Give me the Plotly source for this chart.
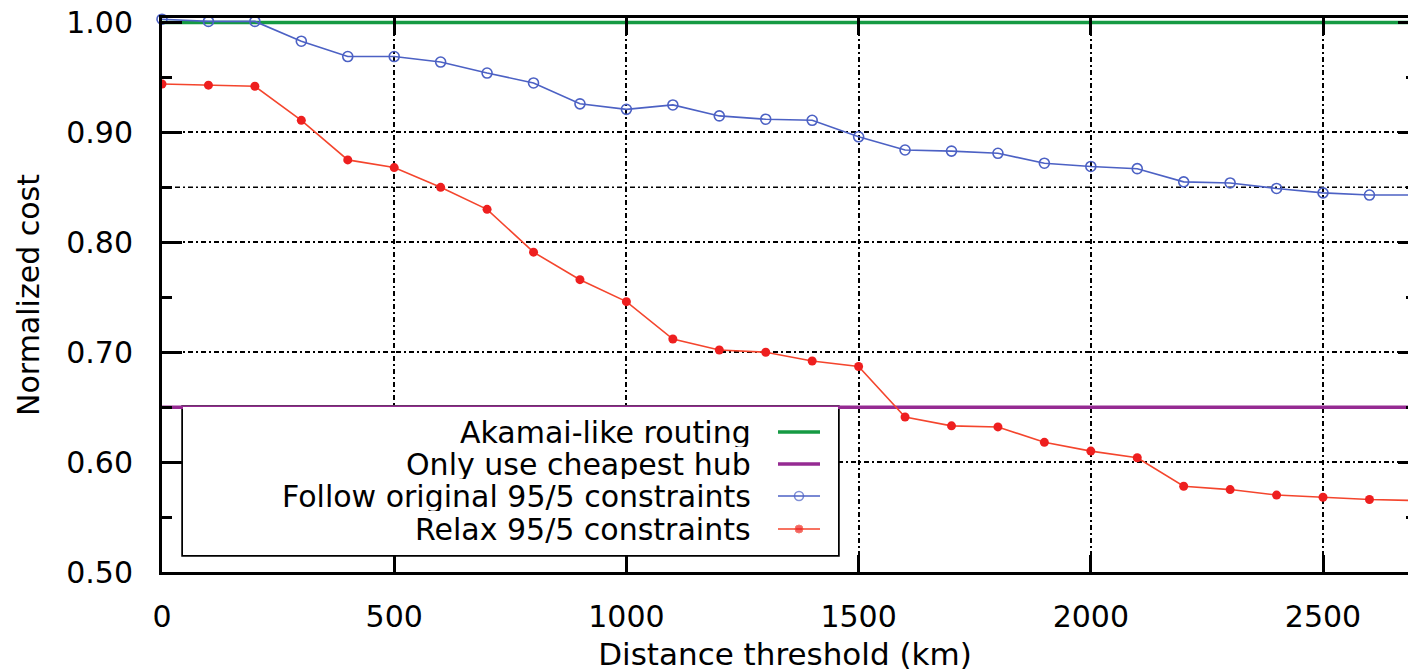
import plotly.graph_objects as go

# ---------------- data ----------------
distance_km = [0, 100, 200, 300, 400, 500, 600, 700, 800, 900, 1000, 1100, 1200, 1300,
               1400, 1500, 1600, 1700, 1800, 1900, 2000, 2100, 2200, 2300, 2400, 2500,
               2600, 2700]
follow_original = [1.003, 1.001, 1.001, 0.983, 0.969, 0.969, 0.964, 0.954, 0.945, 0.926,
                   0.921, 0.925, 0.915, 0.912, 0.911, 0.896, 0.884, 0.883, 0.881, 0.872,
                   0.869, 0.867, 0.855, 0.854, 0.849, 0.845, 0.843, 0.843]
relax = [0.944, 0.943, 0.942, 0.911, 0.875, 0.868, 0.850, 0.830, 0.791, 0.766,
         0.746, 0.712, 0.702, 0.700, 0.692, 0.687, 0.641, 0.633, 0.632, 0.618,
         0.610, 0.604, 0.578, 0.575, 0.570, 0.568, 0.566, 0.565]
akamai_level = 1.00
cheapest_hub_level = 0.65
x_extent = [0, 2683]

series_names = ["Akamai-like routing", "Only use cheapest hub",
                "Follow original 95/5 constraints", "Relax 95/5 constraints"]
y_ticks = [0.5, 0.6, 0.7, 0.8, 0.9, 1.0]
x_ticks = [0, 500, 1000, 1500, 2000, 2500]

GREEN = "#159a43"
PURPLE = "#952a92"
BLUE = "#4c61c4"
RED_LINE = "#f4452d"
RED_MK = "#ee1f1f"
FONT = "DejaVu Sans"
DASH = "5px,3px,2px,3px"

W, H = 1408, 672
L, R, T, B = 162, 0, 18, 100
pw = W - L - R
ph = H - T - B
yr = [0.5, 1.0041]


def px_to_x(px):
    return x_extent[0] + (px - L) / pw * (x_extent[1] - x_extent[0])


def px_to_y(py):
    return yr[0] + (H - B - py) / ph * (yr[1] - yr[0])


fig = go.Figure()

# legend box (white, above grid, below traces)
box = [183, 838, 407, 555]  # left, right, top, bottom in page px
fig.add_shape(type="rect", xref="x", yref="y",
              x0=px_to_x(box[0]), x1=px_to_x(box[1]),
              y0=px_to_y(box[3]), y1=px_to_y(box[2]),
              line=dict(color="black", width=3.5), fillcolor="white", layer="between")
# extra dashed gridline at 0.85
fig.add_shape(type="line", xref="x", yref="y", x0=x_extent[0], x1=x_extent[1],
              y0=0.85, y1=0.85,
              line=dict(color="black", width=1.5, dash=DASH), layer="between")

# constant reference lines
fig.add_trace(go.Scatter(x=x_extent, y=[akamai_level] * 2, mode="lines",
                         line=dict(color=GREEN, width=3.5), name=series_names[0],
                         showlegend=False, cliponaxis=False))
fig.add_trace(go.Scatter(x=x_extent, y=[cheapest_hub_level] * 2, mode="lines",
                         line=dict(color=PURPLE, width=3.5), name=series_names[1],
                         showlegend=False))
fig.add_trace(go.Scatter(x=distance_km, y=follow_original, mode="lines+markers",
                         line=dict(color=BLUE, width=1.6),
                         marker=dict(symbol="circle-open", size=10,
                                     line=dict(color=BLUE, width=1.6)),
                         name=series_names[2], showlegend=False, cliponaxis=False))
fig.add_trace(go.Scatter(x=distance_km, y=relax, mode="lines+markers",
                         line=dict(color=RED_LINE, width=1.6),
                         marker=dict(symbol="circle", size=9, color=RED_MK),
                         name=series_names[3], showlegend=False))

# dummy trace for right-hand mirrored ticks
fig.add_trace(go.Scatter(x=[None], y=[None], yaxis="y2", showlegend=False,
                         hoverinfo="skip"))

# ---- manual legend (gnuplot style: text right, sample left) ----
leg_rows = [432, 464, 496, 529]
sample_x = [778, 820]
leg_styles = [
    dict(mode="lines", line=dict(color=GREEN, width=3.5)),
    dict(mode="lines", line=dict(color=PURPLE, width=3.5)),
    dict(mode="lines+markers", line=dict(color=BLUE, width=1.6),
         marker=dict(symbol="circle-open", size=9, line=dict(color=BLUE, width=1.6))),
    dict(mode="lines+markers", line=dict(color=RED_LINE, width=1.6),
         marker=dict(symbol="circle", size=8, color=RED_MK)),
]
for name, row, st in zip(series_names, leg_rows, leg_styles):
    if st["mode"] == "lines":
        xs, ys = sample_x, [row, row]
    else:
        xs = [sample_x[0], sum(sample_x) / 2, sample_x[1]]
        ys = [row, row, row]
        st = dict(st)
        st["marker"] = dict(st["marker"])
        st["marker"]["size"] = [0, st["marker"]["size"], 0]
    fig.add_trace(go.Scatter(x=xs, y=ys, xaxis="x3", yaxis="y3", showlegend=False,
                             hoverinfo="skip", **st))
    fig.add_annotation(x=752, y=row, xref="x3", yref="y3", text=name,
                       showarrow=False, xanchor="right", yanchor="middle",
                       height=30, borderpad=0,
                       font=dict(family=FONT, size=30, color="black"))

dom_x = [(box[0] - L) / pw, (box[1] - L) / pw]
dom_y = [(H - B - box[3]) / ph, (H - B - box[2]) / ph]

fig.update_layout(
    width=W, height=H,
    margin=dict(l=L, r=R, t=T, b=B),
    paper_bgcolor="white", plot_bgcolor="white",
    font=dict(family=FONT, size=30, color="black"),
    showlegend=False,
    xaxis=dict(range=x_extent, tickvals=x_ticks, ticks="inside", ticklen=17,
               tickwidth=3, tickcolor="black", showline=True, linewidth=3,
               linecolor="black", mirror="ticks", showgrid=True, gridcolor="black",
               gridwidth=1.5, griddash=DASH, zeroline=False,
               ticklabelstandoff=16,
               tickfont=dict(family=FONT, size=30),
               title=dict(text="Distance threshold (km)", standoff=14,
                          font=dict(family=FONT, size=31))),
    yaxis=dict(range=yr, tickvals=y_ticks, tickformat=".2f", ticks="inside",
               ticklen=20, tickwidth=3, tickcolor="black", showline=True, linewidth=3,
               linecolor="black", showgrid=True, gridcolor="black", gridwidth=1.5,
               griddash=DASH, zeroline=False, ticklabelstandoff=20,
               minor=dict(tick0=0.5, dtick=0.05, ticks="inside", ticklen=10,
                          tickwidth=2.5, tickcolor="black", showgrid=False),
               tickfont=dict(family=FONT, size=30),
               title=dict(text="Normalized cost", standoff=18,
                          font=dict(family=FONT, size=30))),
    yaxis2=dict(range=yr, overlaying="y", side="right", anchor="x", tickvals=y_ticks,
                ticks="inside", ticklen=10, tickwidth=3, tickcolor="black",
                showticklabels=False, showline=False, showgrid=False, zeroline=False,
                minor=dict(tick0=0.5, dtick=0.05, ticks="inside", ticklen=2,
                           tickwidth=2.5, tickcolor="black")),
    xaxis3=dict(domain=dom_x, range=[box[0], box[1]], anchor="y3", visible=False,
                fixedrange=True),
    yaxis3=dict(domain=dom_y, range=[box[3], box[2]], anchor="x3", visible=False,
                fixedrange=True),
)

fig.write_html("out.html")
